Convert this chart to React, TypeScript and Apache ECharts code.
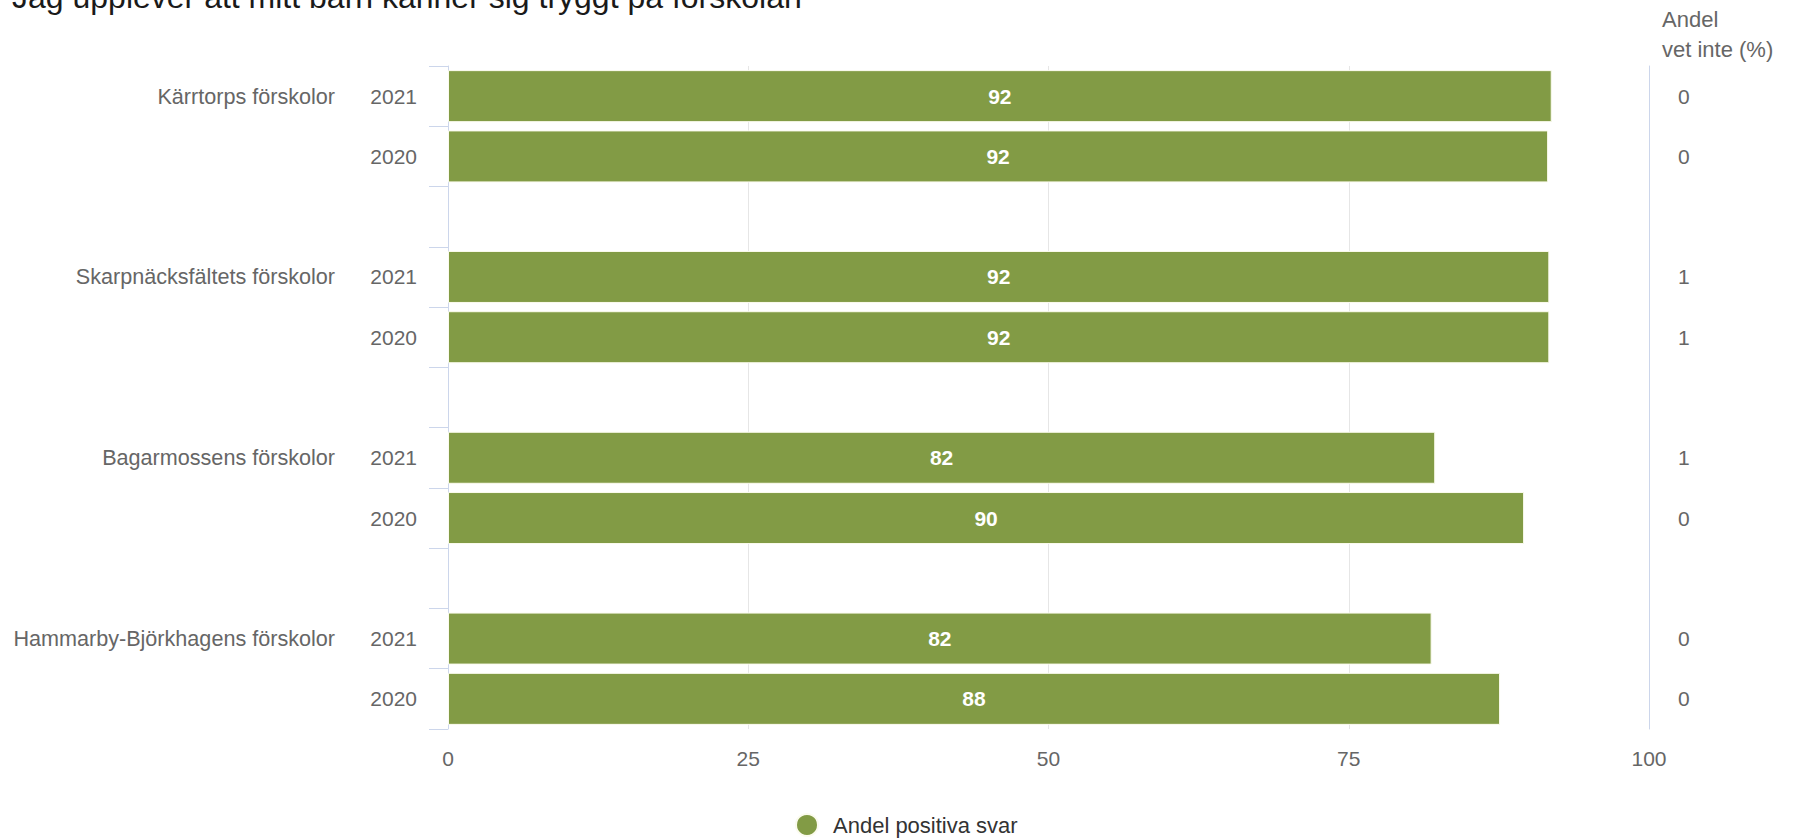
import React, { useEffect, useRef } from "react";
import * as echarts from "echarts";

const titleText = "Jag upplever att mitt barn känner sig tryggt på förskolan";
const sideHeader = "Andel\nvet inte (%)";
const seriesName = "Andel positiva svar";

const schools = [
  "Kärrtorps förskolor",
  "Skarpnäcksfältets förskolor",
  "Bagarmossens förskolor",
  "Hammarby-Björkhagens förskolor",
];
const years = ["2021", "2020"];
const positive2021 = [91.9, 91.7, 82.2, 81.9];
const positive2020 = [91.6, 91.7, 89.6, 87.6];
const dontKnow2021 = [0, 1, 1, 0];
const dontKnow2020 = [0, 1, 0, 0];
const xTicks = [0, 25, 50, 75, 100];

type Slot = { school: string; year: string; pos: number | null; dk: number | null; first: boolean };

const slots: Slot[] = [];
schools.forEach((school, i) => {
  slots.push({ school, year: years[0], pos: positive2021[i], dk: dontKnow2021[i], first: true });
  slots.push({ school, year: years[1], pos: positive2020[i], dk: dontKnow2020[i], first: false });
  if (i < schools.length - 1) slots.push({ school: "", year: "", pos: null, dk: null, first: false });
});

const FONT = "'Liberation Sans', Arial, Helvetica, sans-serif";

export default function App() {
  const ref = useRef<HTMLDivElement>(null);
  useEffect(() => {
    if (!ref.current) return;
    const chart = echarts.init(ref.current, undefined, { renderer: "svg" });
    const cats = slots.map((_, i) => "s" + i);
    const axisColor = "#ccd6eb";
    chart.setOption({
      animation: false,
      backgroundColor: "#ffffff",
      textStyle: { fontFamily: FONT },
      title: [
        {
          text: titleText,
          left: 12,
          top: -19,
          padding: 0,
          textStyle: { fontFamily: FONT, fontSize: 32, fontWeight: "normal", color: "#1a1a1a", lineHeight: 32 },
        },
        {
          text: sideHeader,
          left: 1662,
          top: 4,
          padding: 0,
          textStyle: { fontFamily: FONT, fontSize: 22, fontWeight: "normal", color: "#666666", lineHeight: 30 },
        },
      ],
      legend: {
        data: [seriesName],
        left: 795,
        top: 813,
        padding: 0,
        icon: "circle",
        itemWidth: 42,
        itemHeight: 22,
        textStyle: { fontFamily: FONT, fontSize: 22, color: "#333333" },
      },
      grid: { left: 448, right: 151, top: 66, bottom: 110, containLabel: false },
      xAxis: {
        type: "value",
        min: xTicks[0],
        max: xTicks[xTicks.length - 1],
        interval: 25,
        axisLine: { show: false },
        axisTick: { show: false },
        splitLine: { show: true, lineStyle: { color: "#e6e6e6", width: 1 } },
        axisLabel: {
          fontFamily: FONT,
          fontSize: 21,
          color: "#666666",
          margin: 19,
        },
      },
      yAxis: [
        {
          type: "category",
          inverse: true,
          data: cats,
          position: "left",
          axisLine: { show: true, lineStyle: { color: axisColor, width: 1 } },
          axisTick: { show: true, length: 19, interval: 0, lineStyle: { color: axisColor, width: 1 } },
          splitLine: { show: false },
          axisLabel: {
            interval: 0,
            margin: 31,
            fontFamily: FONT,
            fontSize: 21,
            color: "#666666",
            formatter: (_v: string, i: number) => slots[i].year,
          },
        },
        {
          type: "category",
          inverse: true,
          data: cats,
          position: "left",
          axisLine: { show: false },
          axisTick: { show: false },
          splitLine: { show: false },
          axisLabel: {
            interval: 0,
            margin: 113,
            fontFamily: FONT,
            fontSize: 21.6,
            color: "#666666",
            formatter: (_v: string, i: number) => (slots[i].first ? slots[i].school : ""),
          },
        },
        {
          type: "category",
          inverse: true,
          data: cats,
          position: "right",
          axisLine: { show: true, lineStyle: { color: axisColor, width: 1 } },
          axisTick: { show: false },
          splitLine: { show: false },
          axisLabel: {
            interval: 0,
            margin: 29,
            align: "left",
            fontFamily: FONT,
            fontSize: 21,
            color: "#666666",
            formatter: (_v: string, i: number) => (slots[i].dk === null ? "" : String(slots[i].dk)),
          },
        },
      ],
      series: [
        {
          name: seriesName,
          type: "bar",
          yAxisIndex: 0,
          barWidth: 52,
          data: slots.map((s) => (s.pos === null ? "-" : s.pos)),
          itemStyle: { color: "#829b45", borderColor: "#fbfbee", borderWidth: 1 },
          label: {
            show: true,
            position: "inside",
            fontFamily: FONT,
            fontSize: 21,
            fontWeight: "bold",
            color: "#ffffff",
            formatter: (p: any) => String(Math.round(p.value)),
          },
        },
      ],
    });
    return () => chart.dispose();
  }, []);
  return (
    <div
      ref={ref}
      style={{ position: "fixed", left: 0, top: 0, width: "1800px", height: "839px", background: "#fff" }}
    />
  );
}
